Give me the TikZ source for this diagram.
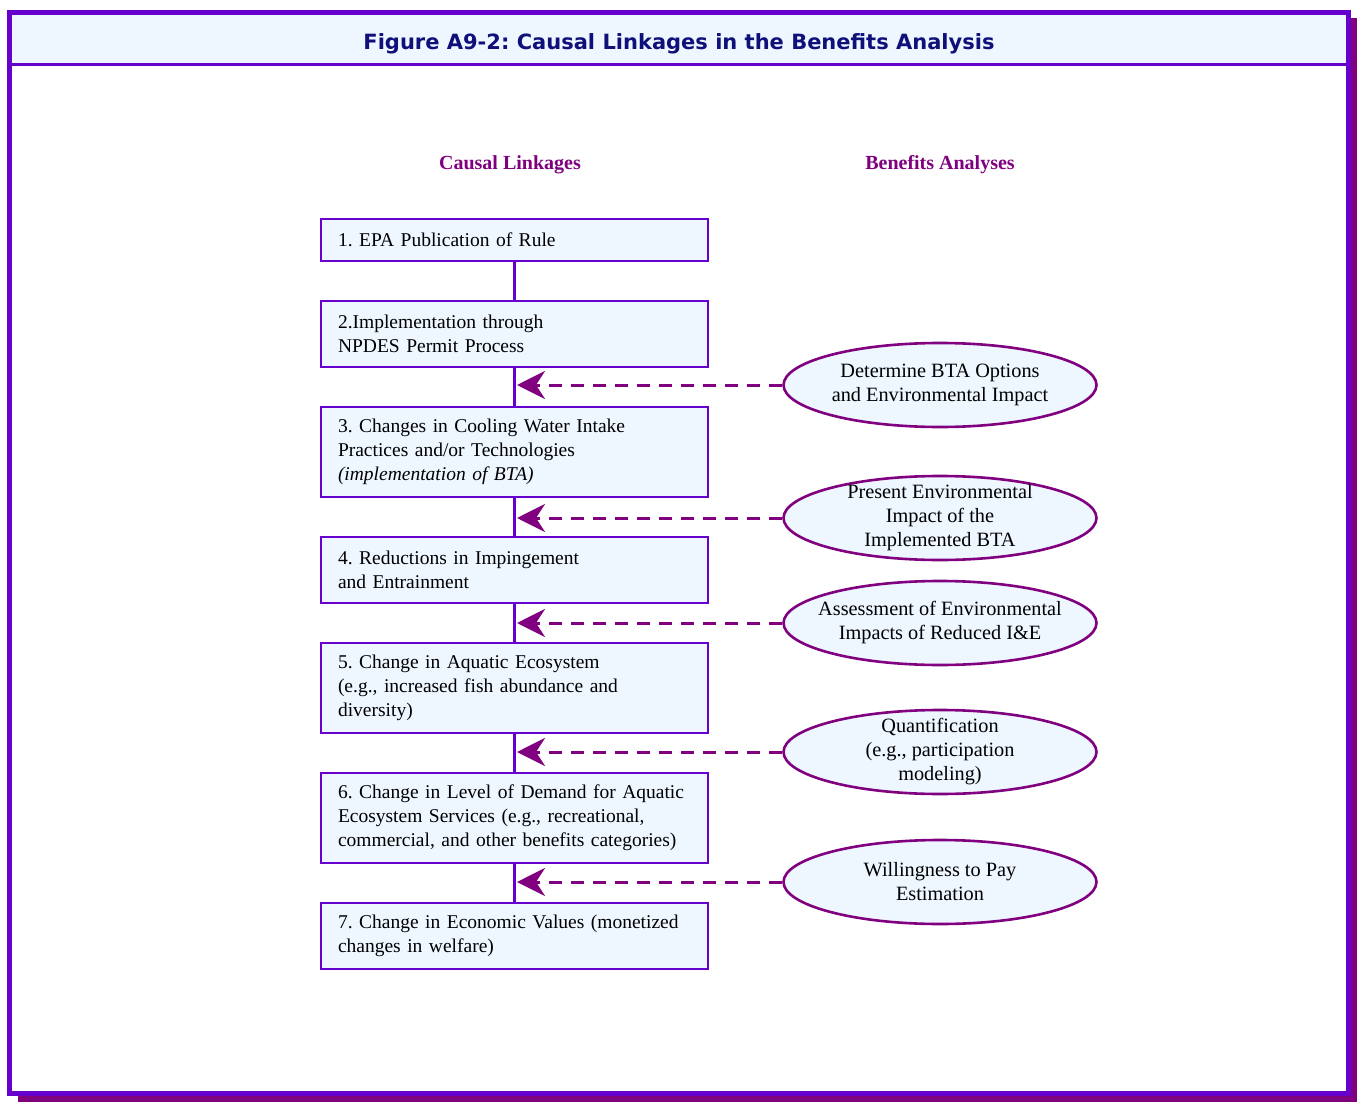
\documentclass[tikz,border=0pt]{standalone}
\usepackage{fontspec}
\setmainfont{Liberation Serif}
\newfontfamily\titlefont{DejaVu Sans}
\usetikzlibrary{arrows.meta,shapes.geometric}
\definecolor{framevio}{HTML}{6600CC}
\definecolor{plum}{HTML}{800080}
\definecolor{paleblue}{HTML}{EEF6FF}
\definecolor{navy}{HTML}{10107A}
\frenchspacing
\begin{document}
\begin{tikzpicture}[x=1pt,y=-1pt,
  every node/.style={font=\fontsize{19.5}{24}\selectfont},
  stepbox/.style={draw=framevio,line width=2.6pt,fill=paleblue,rectangle,
    minimum width=387pt,text width=353pt,align=left,inner xsep=17pt,inner ysep=0pt},
  oval/.style={draw=plum,line width=2.6pt,fill=paleblue,ellipse,
    minimum width=313pt,minimum height=84pt,inner xsep=-45pt,inner ysep=-14pt,
    align=center,font=\fontsize{20.3}{24}\selectfont},
  link/.style={draw=framevio,line width=2.2pt},
  feed/.style={draw=plum,line width=3pt,dash pattern=on 13pt off 9pt,
    -{Stealth[length=28pt,width=28pt,inset=9pt]}},
  heading/.style={text=plum,font=\fontsize{20}{24}\selectfont\bfseries}]
\useasboundingbox (0,0) rectangle (1357,1102);
% drop shadow of the frame
\fill[plum] (1351,18) rectangle (1357,1102);
\fill[plum] (18,1096) rectangle (1357,1102);
% frame and title band
\fill[white] (9.5,12.5) rectangle (1348.5,1093.5);
\fill[paleblue] (9.5,12.5) rectangle (1348.5,65);
\draw[framevio,line width=3pt] (9.5,65) -- (1348.5,65);
\draw[framevio,line width=5pt] (9.5,12.5) rectangle (1348.5,1093.5);
\node[text=navy,font=\titlefont\fontsize{21}{24}\selectfont\bfseries] (title) at (679,44)
  {Figure A9-2: Causal Linkages in the Benefits Analysis};
% column headings
\node[heading] (hcl) at (510,165) {Causal Linkages};
\node[heading] (hba) at (940,165) {Benefits Analyses};
% chain of causal linkages
\node[stepbox,minimum height=42pt] (s1) at (514.5,240) {1. EPA Publication of Rule};
\node[stepbox,minimum height=66pt] (s2) at (514.5,334) {2.Implementation through\\NPDES Permit Process};
\node[stepbox,minimum height=90pt] (s3) at (514.5,452) {3. Changes in Cooling Water Intake\\Practices and/or Technologies\\\textit{(implementation of BTA)}};
\node[stepbox,minimum height=66pt] (s4) at (514.5,570) {4. Reductions in Impingement\\and Entrainment};
\node[stepbox,minimum height=90pt] (s5) at (514.5,688) {5. Change in Aquatic Ecosystem\\(e.g., increased fish abundance and\\diversity)};
\node[stepbox,minimum height=90pt] (s6) at (514.5,818) {6. Change in Level of Demand for Aquatic\\Ecosystem Services (e.g., recreational,\\commercial, and other benefits categories)};
\node[stepbox,minimum height=66pt] (s7) at (514.5,936) {7. Change in Economic Values (monetized\\changes in welfare)};
\foreach \a/\b in {s1/s2,s2/s3,s3/s4,s4/s5,s5/s6,s6/s7}
  \draw[link] (\a.south) -- (\b.north);
% benefits analyses
\node[oval] (b1) at (940,385) {Determine BTA Options\\and Environmental Impact};
\node[oval] (b2) at (940,518) {Present Environmental\\Impact of the\\Implemented BTA};
\node[oval] (b3) at (940,623) {Assessment of Environmental\\Impacts of Reduced I\&E};
\node[oval] (b4) at (940,752) {Quantification\\(e.g., participation\\modeling)};
\node[oval] (b5) at (940,882) {Willingness to Pay\\Estimation};
% points where the analyses feed into the chain
\coordinate (f1) at (517,385);
\coordinate (f2) at (517,518);
\coordinate (f3) at (517,623);
\coordinate (f4) at (517,752);
\coordinate (f5) at (517,882);
\foreach \i in {1,...,5}
  \draw[feed] (b\i.west) -- (f\i);
\end{tikzpicture}
\end{document}
